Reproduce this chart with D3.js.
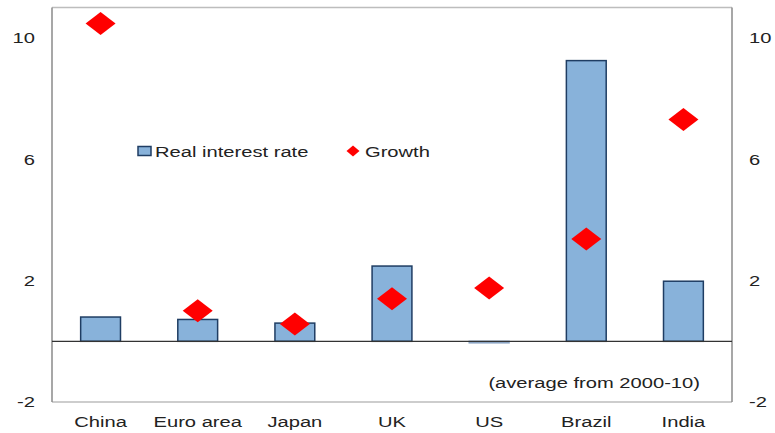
<html>
<head>
<meta charset="utf-8">
<script src="https://d3js.org/d3.v7.min.js"></script>
<style>
  body { margin: 0; background: #fff; }
  text { font-family: "Liberation Sans", Arial, sans-serif; fill: #222; }
</style>
</head>
<body>
<svg id="plot1" width="775" height="433"></svg>
<script>
// data
const countries = ['China', 'Euro area', 'Japan', 'UK', 'US', 'Brazil', 'India'];
const realRate = [0.8, 0.72, 0.6, 2.48, -0.05, 9.25, 1.98];
const growth = [10.47, 1.01, 0.57, 1.4, 1.76, 3.37, 7.31];
const yTicks = [-2, 2, 6, 10];

const margin = {left: 52, top: 7.5, right: 43, bottom: 31};
const sx = 1.3; // text in the picture is stretched sideways
const fontSize = 15.5;

let svg = d3.select('svg#plot1');
let width = +svg.attr('width'), height = +svg.attr('height');

let x = d3.scaleBand()
    .domain(countries)
    .range([margin.left, width - margin.right])
    .paddingInner(0.59)
    .paddingOuter(0.295);

let y = d3.scaleLinear()
    .domain([-2, 11])
    .range([height - margin.bottom, margin.top]);

// frame
let x0 = margin.left, x1 = width - margin.right;
let yTop = y(11), yBot = y(-2);
svg.append('line').attr('x1', x0).attr('x2', x1).attr('y1', yTop).attr('y2', yTop)
   .attr('stroke', '#bdbdbd').attr('stroke-width', 1.5);
svg.append('line').attr('x1', x0).attr('x2', x1).attr('y1', yBot).attr('y2', yBot)
   .attr('stroke', '#bdbdbd').attr('stroke-width', 1.5);
svg.append('line').attr('x1', x0).attr('x2', x0).attr('y1', yTop).attr('y2', yBot)
   .attr('stroke', '#8a8a8a').attr('stroke-width', 1.5);
svg.append('line').attr('x1', x1).attr('x2', x1).attr('y1', yTop).attr('y2', yBot)
   .attr('stroke', '#8a8a8a').attr('stroke-width', 1.5);

// bars
svg.selectAll('rect.bar')
   .data(countries)
   .join('rect')
   .attr('class', 'bar')
   .attr('x', d => x(d))
   .attr('width', x.bandwidth())
   .attr('y', (d, i) => y(Math.max(0, realRate[i])))
   .attr('height', (d, i) => Math.abs(y(realRate[i]) - y(0)))
   .attr('fill', '#88b2da')
   .attr('stroke', (d, i) => realRate[i] < 0 ? '#8aa4c4' : '#1f3d63')
   .attr('stroke-width', 1.5);

// zero line
svg.append('line')
   .attr('x1', x0).attr('x2', x1)
   .attr('y1', y(0)).attr('y2', y(0))
   .attr('stroke', '#333').attr('stroke-width', 1.3);

// growth diamonds
const diamond = (w, h) => `M0,${-h/2}L${w/2},0L0,${h/2}L${-w/2},0Z`;
svg.selectAll('path.growth')
   .data(countries)
   .join('path')
   .attr('class', 'growth')
   .attr('d', diamond(30, 23))
   .attr('transform', (d, i) => `translate(${x(d) + x.bandwidth() / 2},${y(growth[i])})`)
   .attr('fill', '#ff0000');

// axes
const styleAxis = function(g, dx, anchor) {
    g.select('.domain').remove();
    g.selectAll('line').remove();
    g.selectAll('text')
     .attr('x', 0)
     .attr('font-size', fontSize)
     .attr('font-family', '"Liberation Sans", Arial, sans-serif')
     .attr('fill', '#222')
     .attr('text-anchor', anchor)
     .attr('transform', `translate(${dx},0) scale(${sx},1)`);
};

svg.append('g')
   .attr('transform', `translate(${x0},0)`)
   .call(d3.axisLeft(y).tickValues(yTicks).tickFormat(d => String(d)).tickSize(0))
   .call(g => styleAxis(g, -17, 'end'));

svg.append('g')
   .attr('transform', `translate(${x1},0)`)
   .call(d3.axisRight(y).tickValues(yTicks).tickFormat(d => String(d)).tickSize(0))
   .call(g => styleAxis(g, 17, 'start'));

svg.append('g')
   .attr('transform', `translate(0,${yBot})`)
   .call(d3.axisBottom(x).tickSize(0))
   .call(g => {
       styleAxis(g, 0, 'middle');
       g.selectAll('text').attr('y', 25).attr('dy', 0);
   });

// legend
let legend = svg.append('g');
legend.append('rect')
   .attr('x', 138).attr('y', 146.5).attr('width', 13).attr('height', 9)
   .attr('fill', '#88b2da').attr('stroke', '#1f3d63').attr('stroke-width', 1.5);
legend.append('text')
   .attr('transform', `translate(155,157) scale(${sx},1)`)
   .attr('font-size', fontSize)
   .text('Real interest rate');
legend.append('path')
   .attr('d', diamond(13, 11))
   .attr('transform', 'translate(353,151)')
   .attr('fill', '#ff0000');
legend.append('text')
   .attr('transform', `translate(365,157) scale(${sx},1)`)
   .attr('font-size', fontSize)
   .text('Growth');

// note
svg.append('text')
   .attr('transform', `translate(700,388) scale(${sx},1)`)
   .attr('text-anchor', 'end')
   .attr('font-size', fontSize)
   .text('(average from 2000-10)');
</script>
</body>
</html>
